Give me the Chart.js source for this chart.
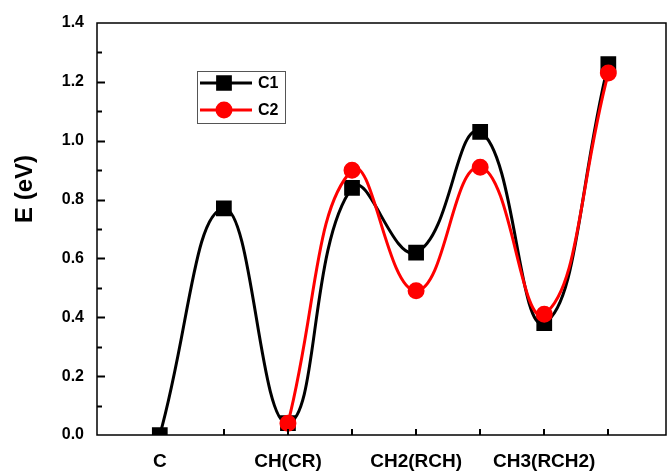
<!DOCTYPE html>
<html>
<head>
<meta charset="utf-8">
<script src="https://cdn.jsdelivr.net/npm/chart.js@4/dist/chart.umd.min.js"></script>
<style>
  html, body { margin: 0; padding: 0; background: #fff; }
  #wrap { width: 669px; height: 472px; }
</style>
</head>
<body>
<div id="wrap"><canvas id="chart" width="669" height="472"></canvas></div>
<script>
// positions along the reaction path and their labels
const xPos = [0, 1, 2, 3, 4, 5, 6, 7];
const catLabels = ['C', '', 'CH(CR)', '', 'CH2(RCH)', '', 'CH3(RCH2)', ''];
// energies (eV)
const c1 = [0.00, 0.77, 0.04, 0.84, 0.62, 1.03, 0.38, 1.26];
const c2 = [null, null, 0.04, 0.90, 0.49, 0.91, 0.41, 1.23];
const yTicks = [0, 0.2, 0.4, 0.6, 0.8, 1.0, 1.2, 1.4];
const yTitle = 'E (eV)';

const FONT = '"Liberation Sans", Arial, sans-serif';

const pts = (arr) => xPos.map((x, i) => ({x, y: arr[i]})).filter((p) => p.y != null);

// frame, inward ticks, axis title and the inset legend
const decor = {
  id: 'decor',
  afterDraw(chart) {
    const {ctx, chartArea: a, scales: {x, y}} = chart;
    ctx.save();
    ctx.strokeStyle = '#000';
    ctx.lineWidth = 1.5;
    ctx.strokeRect(a.left, a.top, a.right - a.left, a.bottom - a.top);

    ctx.lineWidth = 2;
    ctx.beginPath();
    for (let v = 0.1; v < 1.4; v += 0.1) {
      const py = Math.round(y.getPixelForValue(v)) + 0.5;
      const major = Math.abs(v * 5 - Math.round(v * 5)) < 1e-6;
      ctx.moveTo(a.left, py);
      ctx.lineTo(a.left + (major ? 8 : 5), py);
    }
    xPos.forEach((v) => {
      const px = Math.round(x.getPixelForValue(v));
      ctx.moveTo(px, a.bottom);
      ctx.lineTo(px, a.bottom - 6);
    });
    ctx.stroke();

    // y axis title, sits above the middle as in the original
    ctx.save();
    ctx.translate(32, 189);
    ctx.rotate(-Math.PI / 2);
    ctx.fillStyle = '#000';
    ctx.font = 'bold 24px ' + FONT;
    ctx.textAlign = 'center';
    ctx.textBaseline = 'alphabetic';
    ctx.fillText(yTitle, 0, 0);
    ctx.restore();

    // legend box
    const lx = 197, ly = 71, lw = 88, lh = 52;
    ctx.lineWidth = 1;
    ctx.strokeStyle = '#555';
    ctx.strokeRect(lx + 0.5, ly + 0.5, lw, lh);
    const items = [
      ['C1', '#000', 'rect', 83],
      ['C2', '#ff0000', 'circle', 110],
    ];
    items.forEach(([label, color, style, yy]) => {
      ctx.strokeStyle = color;
      ctx.fillStyle = color;
      ctx.lineWidth = 3;
      ctx.beginPath();
      ctx.moveTo(200, yy);
      ctx.lineTo(252, yy);
      ctx.stroke();
      Chart.helpers.drawPoint(ctx, {pointStyle: style, radius: style === 'rect' ? 9 : 7, borderWidth: 1}, 224, yy);
      ctx.fillStyle = '#000';
      ctx.font = 'bold 16px ' + FONT;
      ctx.textBaseline = 'middle';
      ctx.fillText(label, 258, yy + 1);
    });
    ctx.restore();
  },
};

new Chart(document.getElementById('chart'), {
  type: 'line',
  data: {
    datasets: [
      {
        label: 'C1',
        data: pts(c1),
        borderColor: '#000',
        backgroundColor: '#000',
        borderWidth: 3,
        pointStyle: 'rect',
        pointRadius: 9,
        tension: 0.45,
        order: 2,
      },
      {
        label: 'C2',
        data: pts(c2),
        borderColor: '#ff0000',
        backgroundColor: '#ff0000',
        borderWidth: 3,
        pointStyle: 'circle',
        pointRadius: 7,
        tension: 0.45,
        order: 1,
      },
    ],
  },
  options: {
    responsive: false,
    animation: false,
    layout: {autoPadding: false, padding: {top: 23, right: 3, left: 0, bottom: 0}},
    plugins: {legend: {display: false}, tooltip: {enabled: false}},
    scales: {
      x: {
        type: 'linear',
        min: -0.98,
        max: 7.9,
        afterBuildTicks: (s) => { s.ticks = xPos.map((v) => ({value: v})); },
        afterFit: (s) => { s.height = 37; s.paddingLeft = 0; s.paddingRight = 0; },
        grid: {display: false, drawTicks: false},
        border: {display: false},
        ticks: {
          color: '#000',
          padding: 15,
          maxRotation: 0,
          autoSkip: false,
          font: {family: FONT, size: 19, weight: 'bold'},
          callback: (v) => catLabels[xPos.indexOf(v)] ?? '',
        },
      },
      y: {
        min: 0,
        max: 1.4,
        afterBuildTicks: (s) => { s.ticks = yTicks.map((v) => ({value: v})); },
        afterFit: (s) => { s.width = 97; },
        grid: {display: false, drawTicks: false},
        border: {display: false},
        ticks: {
          color: '#000',
          padding: 13,
          font: {family: FONT, size: 16, weight: 'bold'},
          callback: (v) => v.toFixed(1),
        },
      },
    },
  },
  plugins: [decor],
});
</script>
</body>
</html>
